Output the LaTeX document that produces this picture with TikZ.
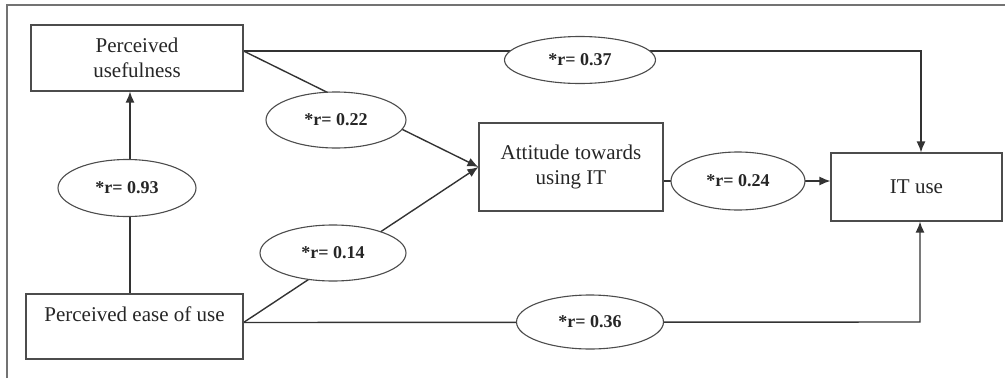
\documentclass[tikz,border=0pt]{standalone}
\usepackage{fontspec}
\setmainfont{Liberation Serif}
\usetikzlibrary{shapes.geometric, arrows.meta, backgrounds}

\begin{document}
\begin{tikzpicture}[x=1pt,y=-1pt,>={Latex[length=11pt,width=9pt]},
  box/.style={draw=black!70,line width=1.1pt,fill=white,inner sep=0pt,text=black!85,font=\fontsize{21}{25}\selectfont,align=center},
  corr/.style={draw=black!70,line width=1.1pt,fill=white,shape=ellipse,inner sep=0pt,text=black!85,font=\fontsize{18}{21}\selectfont\bfseries},
  link/.style={draw=black!80,line width=1.4pt}]
  \useasboundingbox (0,0) rectangle (1005,378);
  \draw[black!55,line width=1.3pt] (7,378) -- (7,5) -- (1005,5);
  \path (137,58) node[box,minimum width=212pt,minimum height=66pt] (pu) {Perceived\\usefulness}
  (134.5,326.5) node[box,minimum width=217pt,text height=27pt,text depth=38pt] (peu) {Perceived ease of use}
  (571,167) node[box,minimum width=184pt,minimum height=88pt] (att) {Attitude towards\\using IT}
  (916.5,187) node[box,minimum width=171pt,minimum height=68pt] (itu) {IT use};
  \path (127,188) node[corr,minimum width=138pt,minimum height=57pt] (e93) {*r= 0.93}
  (336,120) node[corr,minimum width=140pt,minimum height=56pt] (e22) {*r= 0.22}
  (333,253) node[corr,minimum width=146pt,minimum height=56pt] (e14) {*r= 0.14}
  (580,60) node[corr,minimum width=151pt,minimum height=47pt] (e37) {*r= 0.37}
  (738,181) node[corr,minimum width=134pt,minimum height=58pt] (e24) {*r= 0.24}
  (590,322) node[corr,minimum width=147pt,minimum height=54pt] (e36) {*r= 0.36};
  \coordinate (k37) at (921,51);
  \coordinate (k36) at (920,322);
  \begin{scope}[on background layer]
  \draw[link,->] (peu.north -| 130,0) -- (pu.south -| 130,0);
  \draw[link,->] ([yshift=7pt]pu.east) -- (att.west);
  \draw[link,->] ([yshift=4pt]peu.east) -- (att.west);
  \draw[link,->] ([yshift=7pt]pu.east) -- (k37) -- (itu.north -| k37);
  \draw[link,->] ([yshift=4pt]peu.east) -- (k36) -- (itu.south -| k36);
  \draw[link,->] (att.east |- e24) -- (itu.west |- e24);
  \end{scope}
\end{tikzpicture}
\end{document}
